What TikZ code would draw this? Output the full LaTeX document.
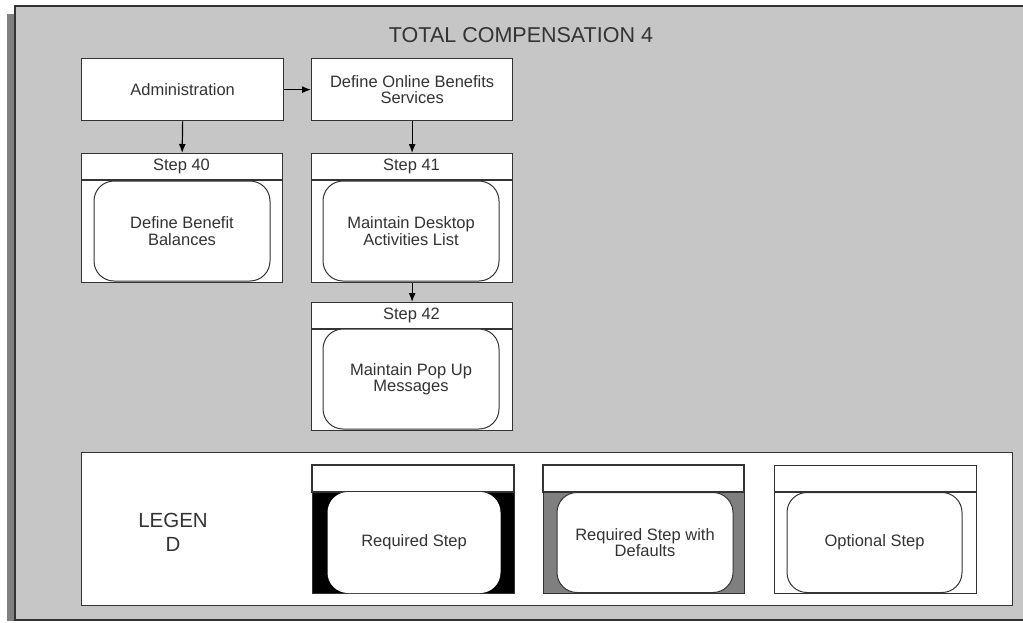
\documentclass[tikz,border=0pt]{standalone}
\usepackage{fontspec}
\setmainfont{Liberation Sans}
\usetikzlibrary{arrows.meta}
\definecolor{framegray}{HTML}{C6C6C6}
\definecolor{shadowgray}{HTML}{808080}
\definecolor{ink}{HTML}{333333}
\definecolor{midgray}{HTML}{7F7F7F}
\tikzset{
  box/.style={draw=ink, line width=1.3pt, fill=white, inner sep=0pt},
  txt/.style={font=\fontsize{16.5}{16.5}\selectfont, align=center, text=ink},
  innerbox/.style={draw=ink, line width=1pt, fill=white, rounded corners=20pt, inner sep=0pt, txt},
  arr/.style={draw=black, line width=1.2pt, -{Latex[length=9pt,width=7pt]}},
}
\begin{document}
\begin{tikzpicture}[x=1pt,y=-1pt]
\useasboundingbox (0,0) rectangle (1023,622);
\begin{scope}
\clip (0,0) rectangle (1023,622);
% shadow and frame
\fill[shadowgray] (7,14) rectangle (16,621);
\fill[framegray] (15,6) rectangle (1030,620);
\draw[ink, line width=1.3pt] (1030,6) -- (15,6) -- (15,620) -- (1030,620);
\end{scope}
\node[txt, font=\fontsize{21.5}{22}\selectfont] (title) at (521,35) {TOTAL COMPENSATION 4};

% top boxes
\node[box, txt, minimum width=202pt, minimum height=62pt, anchor=north west] (admin) at (81,58) {Administration};
\node[box, txt, minimum width=201pt, minimum height=62pt, anchor=north west] (dobs) at (311,58) {Define Online Benefits\\Services};

% Step 40
\node[box, minimum width=201pt, minimum height=129pt, anchor=north west] (s40) at (81,153) {};
\node[txt, anchor=center] (s40h) at (181.5,166.5) {Step 40};
\draw[ink, line width=1.3pt] (s40.north west) ++(0,27) -- ++(201,0);
\node[innerbox, minimum width=176pt, minimum height=100pt] (s40i) at (182,231) {Define Benefit\\Balances};

% Step 41
\node[box, minimum width=201pt, minimum height=129pt, anchor=north west] (s41) at (311,153) {};
\node[txt] (s41h) at (411.5,166.5) {Step 41};
\draw[ink, line width=1.3pt] (s41.north west) ++(0,27) -- ++(201,0);
\node[innerbox, minimum width=176pt, minimum height=100pt] (s41i) at (411,231) {Maintain Desktop\\Activities List};

% Step 42
\node[box, minimum width=201pt, minimum height=128pt, anchor=north west] (s42) at (311,302) {};
\node[txt] (s42h) at (411.5,315.5) {Step 42};
\draw[ink, line width=1.3pt] (s42.north west) ++(0,27) -- ++(201,0);
\node[innerbox, minimum width=176pt, minimum height=100pt] (s42i) at (411,379) {Maintain Pop Up\\Messages};

% arrows
\draw[arr] (admin.east) -- (dobs.west);
\draw[arr] (admin.south) -- (s40.north);
\draw[arr] (dobs.south) -- (s41.north);
\draw[arr] (s41.south) -- (s42.north);

% legend
\node[box, minimum width=931pt, minimum height=153pt, anchor=north west] (legend) at (81,452) {};
\node[txt, font=\fontsize{20.5}{24}\selectfont] (legtxt) at (173,532) {LEGEN\\D};

% Required step
\node[box, fill=black, minimum width=202pt, minimum height=128pt, anchor=north west] (req) at (312,465) {};
\draw[ink, line width=1.3pt, fill=white] (312,465) rectangle (514,492);
\node[innerbox, draw=white, minimum width=172pt, minimum height=100pt] (reqi) at (414,542.5) {Required Step};

% Required step with defaults
\node[box, fill=midgray, minimum width=201pt, minimum height=128pt, anchor=north west] (rsd) at (543,465) {};
\draw[ink, line width=1.3pt, fill=white] (543,465) rectangle (744,492);
\node[innerbox, minimum width=176pt, minimum height=100pt] (rsdi) at (645,542.5) {Required Step with\\Defaults};

% Optional step
\node[box, minimum width=202pt, minimum height=128pt, anchor=north west] (opt) at (774,465) {};
\draw[ink, line width=1.3pt] (774,492) -- (976,492);
\node[innerbox, minimum width=175pt, minimum height=100pt] (opti) at (874.5,542.5) {Optional Step};
\end{tikzpicture}
\end{document}
